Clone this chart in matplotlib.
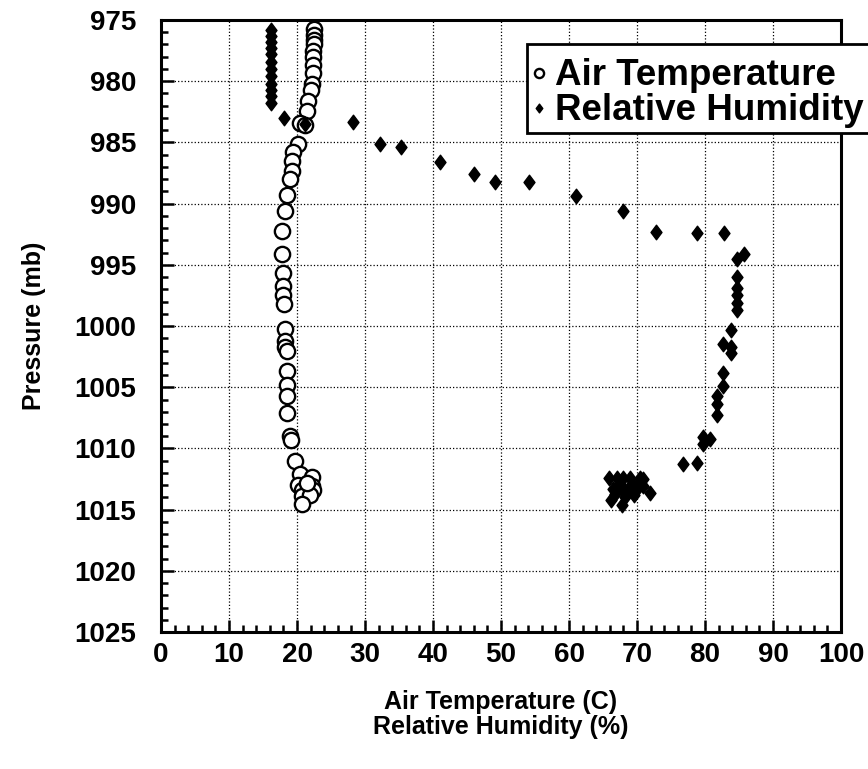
import matplotlib
matplotlib.use("Agg")
import matplotlib.pyplot as plt
from matplotlib.path import Path
from matplotlib.ticker import MultipleLocator

plt.rcParams['font.family'] = ['Liberation Sans', 'DejaVu Sans']
plt.rcParams['font.weight'] = 'bold'

# air temperature (C) and its pressure (mb)
temp_c = [22.5, 22.5, 22.5, 22.5, 22.4, 22.4, 22.3, 22.3, 22.2, 22.0,
          21.6, 21.4, 20.4, 21.2, 20.1, 19.4, 19.2, 19.2, 19.0, 18.5,
          18.2, 17.8, 17.8, 17.9, 17.9, 17.9, 18.1, 18.2, 18.2, 18.3,
          18.5, 18.5, 18.5, 18.5, 18.5, 19.0, 19.1, 19.7, 20.4, 22.2,
          20.2, 22.2, 20.7, 22.4, 20.7, 21.9, 20.7, 21.4]
temp_p = [975.7, 976.2, 976.6, 977.0, 977.5, 978.0, 978.7, 979.3, 980.2, 980.7,
          981.6, 982.4, 983.4, 983.6, 985.1, 985.8, 986.5, 987.3, 988.0, 989.3,
          990.6, 992.2, 994.1, 995.7, 996.7, 997.5, 998.2, 1000.2, 1001.2, 1001.7,
          1002.0, 1003.7, 1004.8, 1005.7, 1007.1, 1009.0, 1009.3, 1011.0, 1012.1, 1012.3,
          1013.0, 1013.1, 1013.4, 1013.4, 1013.9, 1013.8, 1014.5, 1012.8]

# relative humidity (%) and its pressure (mb)
rh_pct = [16.2, 16.2, 16.2, 16.2, 16.2, 16.2, 16.2, 16.2, 16.2, 16.2, 16.2, 16.2,
          18.1, 21.2, 28.3, 32.2, 35.3, 41.0, 46.0, 49.1, 54.1, 61.0, 68.0,
          72.8, 78.8, 82.8, 85.7, 84.7, 84.7, 84.7, 84.7, 84.7, 84.7,
          83.8, 82.6, 83.8, 83.8, 82.6, 82.6, 81.8, 81.8, 81.8,
          79.7, 80.7, 79.7, 78.8, 76.8,
          65.8, 67.0, 68.0, 69.0, 70.5, 70.9, 66.5, 67.8, 68.7, 70.0,
          67.5, 69.4, 70.9, 71.9, 66.2, 67.8, 68.2, 69.5, 66.8]
rh_p = [975.8, 976.3, 976.8, 977.3, 977.8, 978.4, 979.0, 979.6, 980.2, 980.7, 981.2, 981.8,
        983.0, 983.5, 983.3, 985.1, 985.4, 986.6, 987.6, 988.2, 988.2, 989.4, 990.6,
        992.3, 992.4, 992.4, 994.1, 994.5, 996.0, 996.9, 997.5, 998.1, 998.7,
        1000.3, 1001.5, 1001.7, 1002.2, 1003.8, 1004.9, 1005.7, 1006.4, 1007.3,
        1009.1, 1009.2, 1009.6, 1011.2, 1011.3,
        1012.4, 1012.4, 1012.4, 1012.4, 1012.4, 1012.5, 1013.3, 1013.3, 1013.3, 1013.3,
        1012.9, 1012.9, 1013.1, 1013.6, 1014.2, 1014.6, 1014.0, 1013.8, 1013.7]

# slightly tall diamond like the original plotter glyph
diamond = Path([(0, 1), (0.75, 0), (0, -1), (-0.75, 0), (0, 1)],
               [Path.MOVETO, Path.LINETO, Path.LINETO, Path.LINETO, Path.CLOSEPOLY])

fig = plt.figure(figsize=(8.68, 7.69), dpi=100)
ax = fig.add_axes([0.1855, 0.178, 0.7835, 0.796])

ax.plot(temp_c, temp_p, linestyle='none', marker='o', markersize=11,
        markerfacecolor='white', markeredgecolor='black', markeredgewidth=1.7,
        label='Air Temperature', zorder=3)
ax.plot(rh_pct, rh_p, linestyle='none', marker=diamond, markersize=10.5,
        color='black', label='Relative Humidity', zorder=4)

ax.set_xlim(0, 100)
ax.set_ylim(1025, 975)
ax.xaxis.set_major_locator(MultipleLocator(10))
ax.xaxis.set_minor_locator(MultipleLocator(2))
ax.yaxis.set_major_locator(MultipleLocator(5))
ax.yaxis.set_minor_locator(MultipleLocator(1))

ax.grid(True, which='major', linestyle=':', linewidth=0.9, color='black')
ax.tick_params(which='both', direction='in', width=1.8, top=False, right=False)
ax.tick_params(which='major', length=9)
ax.tick_params(which='minor', length=5)
ax.tick_params(axis='x', labelsize=20, pad=7)
ax.tick_params(axis='y', labelsize=20, pad=18)
for lab in ax.get_xticklabels() + ax.get_yticklabels():
    lab.set_fontweight('bold')
for sp in ax.spines.values():
    sp.set_linewidth(2.2)

ax.set_xlabel('Air Temperature (C)\nRelative Humidity (%)', fontsize=18,
              fontweight='bold', labelpad=16, linespacing=1.05)
ax.set_ylabel('Pressure (mb)', fontsize=18, fontweight='bold', labelpad=20)

# blank small title only adds room above the first row
leg = ax.legend(loc='upper left', bbox_to_anchor=(527 / 868, 1 - 44 / 769),
                bbox_transform=fig.transFigure, fontsize=26.5, frameon=True,
                fancybox=False, edgecolor='black', framealpha=1, markerscale=0.6,
                borderpad=0.12, labelspacing=0.0, handlelength=0.4,
                handletextpad=0.25, borderaxespad=0,
                title=' ', title_fontsize=7)
leg.get_frame().set_linewidth(2)
for t in leg.get_texts():
    t.set_fontweight('bold')

fig.savefig('out.png', dpi=100)
